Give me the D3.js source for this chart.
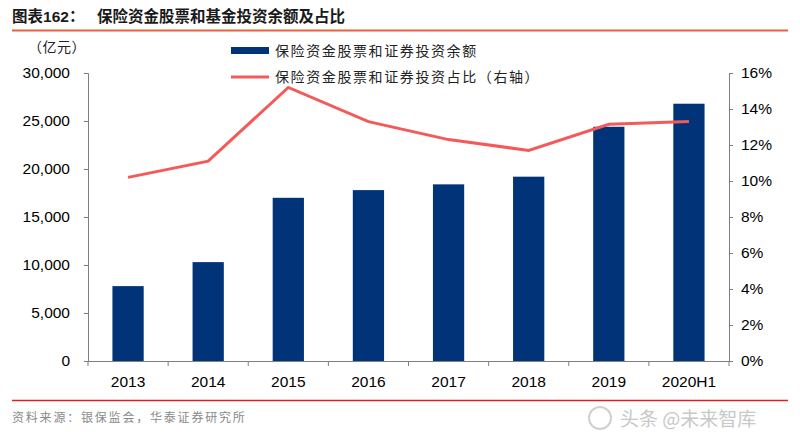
<!DOCTYPE html>
<html><head><meta charset="utf-8">
<script src="https://cdn.jsdelivr.net/npm/d3@7"></script>
<style>body{margin:0;background:#fff}svg{display:block}</style>
</head><body>
<script>
const categories = ["2013","2014","2015","2016","2017","2018","2019","2020H1"];
const balance = [7800, 10300, 17000, 17800, 18400, 19200, 24400, 26800];
const ratio = [10.2, 11.1, 15.2, 13.3, 12.3, 11.7, 13.15, 13.3];
const leftTicks = [0,5000,10000,15000,20000,25000,30000];
const rightTicks = [0,2,4,6,8,10,12,14,16];

const W=800,H=447;
const svg=d3.select("body").append("svg").attr("width",W).attr("height",H);
const m={l:88,r:729,t:73,b:361};
const x=d3.scaleBand().domain(categories).range([m.l,m.r]).paddingInner(0.61).paddingOuter(0.305);
const xb=d3.scalePoint().domain(categories).range([m.l,m.r]).padding(0.5);
const yL=d3.scaleLinear().domain([0,30000]).range([m.b,m.t]);
const yR=d3.scaleLinear().domain([0,16]).range([m.b,m.t]);
const axisColor="#7f7f7f";
const numFont="'Liberation Sans', Arial, sans-serif";
const cjk="'Noto Sans CJK SC', sans-serif";

// title
const t=svg.append("text").attr("x",12).attr("y",22).attr("font-size",15.5).attr("font-weight","bold").attr("fill","#1a1a1a");
t.append("tspan").attr("font-family",cjk).text("图表");
t.append("tspan").attr("font-family",numFont).text("162");
t.append("tspan").attr("font-family",cjk).text("：");
t.append("tspan").attr("font-family",cjk).attr("x",97).text("保险资金股票和基金投资余额及占比");
svg.append("line").attr("x1",12).attr("x2",788).attr("y1",30.5).attr("y2",30.5).attr("stroke","#e8603f").attr("stroke-width",2);

// bars
svg.selectAll("rect.bar").data(categories).join("rect").attr("class","bar")
  .attr("x",d=>x(d)).attr("width",x.bandwidth())
  .attr("y",(d,i)=>yL(balance[i])).attr("height",(d,i)=>m.b-yL(balance[i]))
  .attr("fill","#003377");

// left axis
const gl=svg.append("g").attr("transform",`translate(${m.l},0)`).call(d3.axisLeft(yL).tickValues(leftTicks).tickFormat(d3.format(",")).tickSize(4).tickPadding(14));
// right axis
const gr=svg.append("g").attr("transform",`translate(${m.r},0)`).call(d3.axisRight(yR).tickValues(rightTicks).tickFormat(d=>d+"%").tickSize(4).tickPadding(8));
// bottom axis
const gb=svg.append("g").attr("transform",`translate(0,${m.b})`).call(d3.axisBottom(x).tickSize(0).tickPadding(15));
const bounds=d3.range(categories.length+1).map(i=>m.l+i*(m.r-m.l)/categories.length);
svg.append("g").selectAll("line").data(bounds).join("line")
  .attr("x1",d=>d).attr("x2",d=>d).attr("y1",m.b).attr("y2",m.b+5).attr("stroke",axisColor);
[gl,gr,gb].forEach(g=>{
  g.selectAll("path,line").attr("stroke",axisColor);
  g.selectAll("text").attr("font-family",numFont).attr("font-size",15.5).attr("fill","#000");
});
gb.select(".domain").attr("d",`M${m.l},0.5H${m.r}`);

// line
svg.append("path").datum(ratio)
  .attr("d",d3.line().x((d,i)=>xb(categories[i])).y(d=>yR(d)))
  .attr("fill","none").attr("stroke","#f45a5a").attr("stroke-width",3);

// unit label
svg.append("text").attr("x",28).attr("y",52).attr("font-family",cjk).attr("font-size",14).attr("fill","#222").attr("letter-spacing",0.5).text("（亿元）");

// legend
svg.append("rect").attr("x",231).attr("y",47).attr("width",38).attr("height",7).attr("fill","#003377");
svg.append("text").attr("x",275).attr("y",56).attr("font-family",cjk).attr("font-size",14).attr("letter-spacing",1.6).attr("fill","#222").text("保险资金股票和证券投资余额");
svg.append("line").attr("x1",231).attr("x2",269).attr("y1",77).attr("y2",77).attr("stroke","#f45a5a").attr("stroke-width",3);
svg.append("text").attr("x",275).attr("y",82).attr("font-family",cjk).attr("font-size",14).attr("letter-spacing",1.6).attr("fill","#222").text("保险资金股票和证券投资占比（右轴）");

// bottom line and source
svg.append("line").attr("x1",12).attr("x2",788).attr("y1",400.5).attr("y2",400.5).attr("stroke","#e02020").attr("stroke-width",1.5);
svg.append("text").attr("x",12).attr("y",422).attr("font-family",cjk).attr("font-size",12).attr("letter-spacing",1.8).attr("fill","#8a8a8a").text("资料来源：银保监会，华泰证券研究所");

// watermark
svg.append("circle").attr("cx",600).attr("cy",418).attr("r",11).attr("fill","none").attr("stroke","#d0d0d0").attr("stroke-width",2);
svg.append("text").attr("x",620).attr("y",426).attr("font-family",cjk).attr("font-size",19).attr("fill","#c8c8c8").text("头条 @未来智库");
</script>
</body></html>
